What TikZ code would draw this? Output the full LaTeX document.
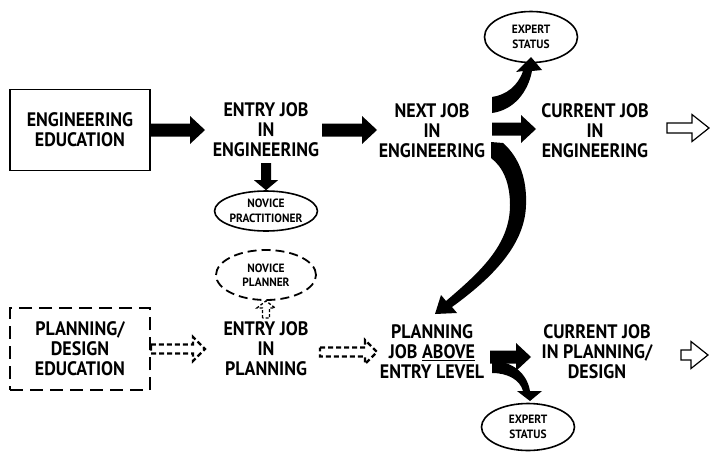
\documentclass[tikz,border=0pt]{standalone}
\usepackage{fontspec}
\setmainfont{PT Sans}
\newfontfamily\lblfont[FakeStretch=0.92]{PT Sans}
\newfontfamily\smlfont[FakeStretch=0.95]{PT Sans}
\usetikzlibrary{calc,shapes.geometric}
\newcommand\blockarrow[6][]{%
  \path ($(#3)!#6!(#2)$) coordinate (bac);
  \path[#1] ($(#2)!#4!90:(#3)$) -- ($(bac)!#4!90:(#3)$) -- ($(bac)!#5!90:(#3)$) -- (#3)
     -- ($(bac)!#5!-90:(#3)$) -- ($(bac)!#4!-90:(#3)$) -- ($(#2)!#4!-90:(#3)$) -- cycle;}
\begin{document}
\begin{tikzpicture}[x=1pt,y=-1pt,
  lbl/.style={font=\lblfont\bfseries\fontsize{19.5}{20}\selectfont, align=center, inner sep=0pt},
  small/.style={ellipse, draw, line width=1.6pt, font=\smlfont\bfseries\fontsize{12}{14.5}\selectfont, align=center, inner sep=0pt},
  solidarrow/.style={fill=black},
  hollowarrow/.style={draw, line width=1.2pt, fill=white, line join=miter},
  dasharrow/.style={draw, line width=2.2pt, dash pattern=on 5pt off 3pt, line join=miter}
]
\useasboundingbox (0,0) rectangle (714,453);

% nodes
\node[draw, line width=1.6pt, minimum width=140pt, minimum height=81pt, lbl] (engedu) at (80,130) {ENGINEERING\\EDUCATION};
\node[lbl] (entryeng) at (266,130) {ENTRY JOB\\IN\\ENGINEERING};
\node[lbl] (nexteng) at (432,131) {NEXT JOB\\IN\\ENGINEERING};
\node[lbl] (cureng) at (595,131) {CURRENT JOB\\IN\\ENGINEERING};
\node[small, minimum width=101pt, minimum height=40pt] (novprac) at (266,211) {NOVICE\\PRACTITIONER};
\node[small, line width=1.8pt, dash pattern=on 9pt off 5pt, minimum width=100pt, minimum height=50pt] (novplan) at (266,275) {NOVICE\\PLANNER};
\node[small, minimum width=93pt, minimum height=51pt] (expert1) at (531,37) {EXPERT\\STATUS};
\node[small, minimum width=93pt, minimum height=47pt] (expert2) at (528,427) {EXPERT\\STATUS};
\node[draw, line width=1.8pt, dash pattern=on 13pt off 7pt, minimum width=140pt, minimum height=82pt, lbl] (planedu) at (80,349) {PLANNING/\\DESIGN\\EDUCATION};
\node[lbl] (entryplan) at (266,349) {ENTRY JOB\\IN\\PLANNING};
\node[lbl] (planjob) at (432,352) {PLANNING\\JOB \underline{ABOVE}\\ENTRY LEVEL};
\node[lbl] (curplan) at (597,352) {CURRENT JOB\\IN PLANNING/\\DESIGN};

% arrow end points
\coordinate (a1s) at (engedu.east);
\coordinate (a1e) at (205,130);
\coordinate (a2s) at (322,130);
\coordinate (a2e) at (377,130);
\coordinate (a3s) at (492,129);
\coordinate (a3e) at (536,129);
\coordinate (a4s) at (667,128);
\coordinate (a4e) at (709,128);
\coordinate (d1s) at (266,163);
\coordinate (d1e) at (novprac.north);
\coordinate (b1s) at (planedu.east);
\coordinate (b1e) at (205,349);
\coordinate (b2s) at (320,352);
\coordinate (b2e) at (377,352);
\coordinate (b3s) at (490,357);
\coordinate (b3e) at (531,357);
\coordinate (b4s) at (681,355);
\coordinate (b4e) at (708,355);
\coordinate (u1s) at (266,318);
\coordinate (u1e) at (novplan.south);

% straight arrows
\blockarrow[solidarrow]{a1s}{a1e}{6.5pt}{14pt}{15pt}
\blockarrow[solidarrow]{a2s}{a2e}{6.5pt}{14pt}{15pt}
\blockarrow[solidarrow]{a3s}{a3e}{6.5pt}{14pt}{15pt}
\blockarrow[hollowarrow]{a4s}{a4e}{5pt}{13.5pt}{17pt}
\blockarrow[solidarrow]{d1s}{d1e}{5pt}{12pt}{10pt}
\blockarrow[dasharrow]{b1s}{b1e}{4.5pt}{12pt}{12pt}
\blockarrow[dasharrow]{b2s}{b2e}{4.5pt}{12pt}{12pt}
\blockarrow[solidarrow]{b3s}{b3e}{6.5pt}{14pt}{15pt}
\blockarrow[hollowarrow]{b4s}{b4e}{5pt}{13.5pt}{17pt}
\blockarrow[dasharrow, line width=1.3pt, dash pattern=on 3pt off 2pt]{u1s}{u1e}{3.5pt}{9pt}{7pt}

% curved arrows
\fill (492,97) .. controls (506,95) and (518,86) .. (523,71) -- (516,72) -- (531,57) -- (542,70) -- (532,71)
  .. controls (528,92) and (514,110) .. (492,113) -- cycle;
\fill (491,142) -- (503,143) .. controls (520,158) and (527,180) .. (526,205)
  .. controls (525,245) and (492,278) .. (452,307) -- (457,313) -- (435,314) -- (441,295) -- (446,301)
  .. controls (480,272) and (510,245) .. (510,205) .. controls (510,183) and (503,167) .. (491,158) -- cycle;
\fill (492,361) .. controls (512,361) and (527,373) .. (530,391) -- (542,391) -- (530,401) -- (517,391) -- (523,391)
  .. controls (520,380) and (508,373) .. (492,373) -- cycle;
\end{tikzpicture}
\end{document}
